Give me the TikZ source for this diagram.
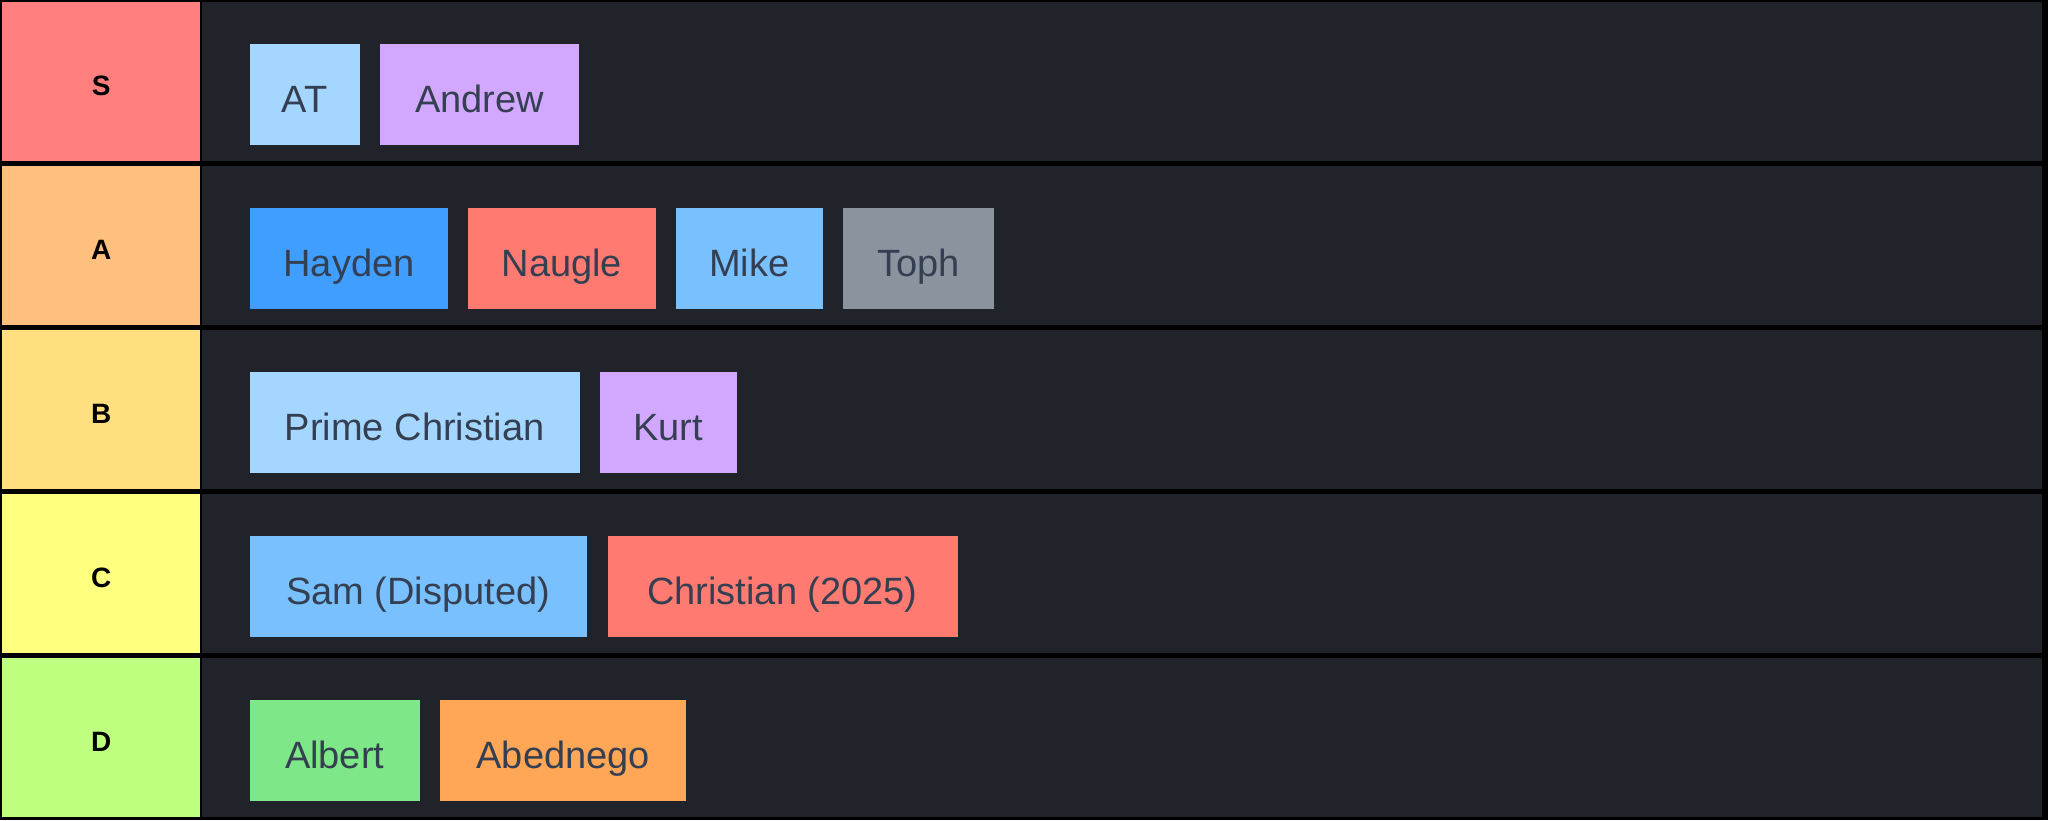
\documentclass[tikz,border=0pt]{standalone}
\usepackage{fontspec}
\setmainfont{Liberation Sans}
\definecolor{tierS}{HTML}{FF7F7F}
\definecolor{tierA}{HTML}{FFBF7F}
\definecolor{tierB}{HTML}{FFDF7F}
\definecolor{tierC}{HTML}{FFFF7F}
\definecolor{tierD}{HTML}{BFFF7F}
\definecolor{rowbg}{HTML}{20232A}
\definecolor{itemtext}{HTML}{353F52}
\definecolor{cLightBlue}{HTML}{A5D6FF}
\definecolor{cPurple}{HTML}{D2A8FF}
\definecolor{cBlue}{HTML}{409EFF}
\definecolor{cRed}{HTML}{FF7B72}
\definecolor{cSky}{HTML}{79C0FF}
\definecolor{cGray}{HTML}{8B949E}
\definecolor{cGreen}{HTML}{7EE787}
\definecolor{cOrange}{HTML}{FFA657}
\begin{document}
\begin{tikzpicture}[x=1pt,y=-1pt,
  tier/.style={anchor=north west, minimum width=198pt, minimum height=159pt, inner sep=0pt,
    text height=28pt, text depth=0pt, text=black, font=\fontsize{28}{32}\selectfont\bfseries},
  item/.style={anchor=north west, minimum height=101pt, inner sep=0pt,
    text height=36pt, text depth=0pt, text=itemtext, font=\fontsize{38}{44}\selectfont}]
\fill[black] (0,0) rectangle (2048,820);
\useasboundingbox (0,0) rectangle (2048,820);
% row backgrounds
\foreach \t in {0,164,328,492,656}{
  \fill[rowbg] (202,\t+2) rectangle (2042,\t+161);
}
% tier labels
\node[tier, fill=tierS] (tS) at (2,2) {S};
\node[tier, fill=tierA] (tA) at (2,166) {A};
\node[tier, fill=tierB] (tB) at (2,330) {B};
\node[tier, fill=tierC] (tC) at (2,494) {C};
\node[tier, fill=tierD] (tD) at (2,658) {D};
% S row
\node[item, fill=cLightBlue, minimum width=110pt] (at) at (249.5,43.5) {AT};
\node[item, fill=cPurple, minimum width=199pt] (andrew) at (380,43.5) {Andrew};
% A row
\node[item, fill=cBlue, minimum width=198.5pt] (hayden) at (249.5,207.5) {Hayden};
\node[item, fill=cRed, minimum width=188pt] (naugle) at (467.6,207.5) {Naugle};
\node[item, fill=cSky, minimum width=147.5pt] (mike) at (675.3,207.5) {Mike};
\node[item, fill=cGray, minimum width=151.5pt] (toph) at (842.4,207.5) {Toph};
% B row
\node[item, fill=cLightBlue, minimum width=330pt] (prime) at (249.5,371.5) {Prime Christian};
\node[item, fill=cPurple, minimum width=137pt] (kurt) at (599.5,371.5) {Kurt};
% C row
\node[item, fill=cSky, minimum width=337pt] (sam) at (249.5,535.5) {Sam (Disputed)};
\node[item, fill=cRed, minimum width=350pt] (christian) at (607.3,535.5) {Christian (2025)};
% D row
\node[item, fill=cGreen, minimum width=170pt] (albert) at (249.5,699.5) {Albert};
\node[item, fill=cOrange, minimum width=246pt] (abednego) at (440,699.5) {Abednego};
\end{tikzpicture}
\end{document}
